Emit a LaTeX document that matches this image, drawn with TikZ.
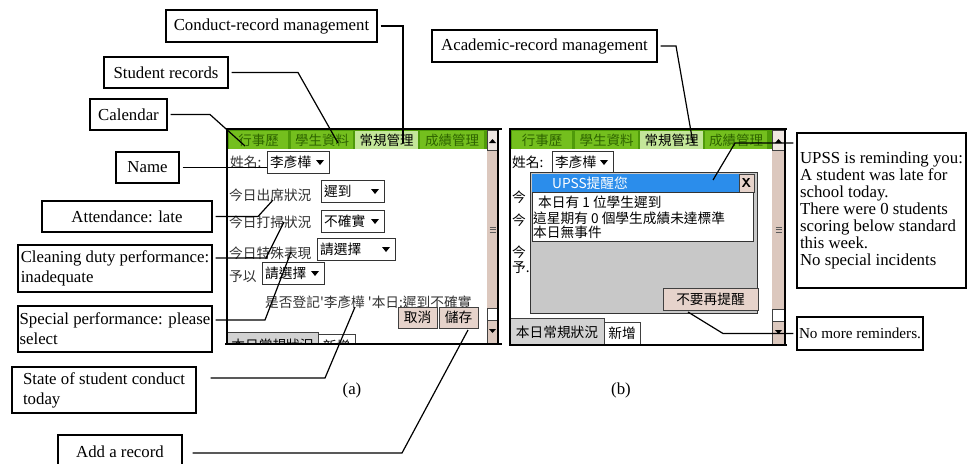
\documentclass[tikz,border=0pt]{standalone}
\usepackage{fontspec}
\setmainfont{Liberation Serif}
\newfontfamily\cjk[Ligatures=TeXOff]{Noto Sans CJK TC}
\definecolor{tabbar}{HTML}{4F9A0A}
\definecolor{tabcell}{HTML}{74BF1E}
\definecolor{tabon}{HTML}{C4E69A}
\definecolor{tabtext}{HTML}{2E6400}
\definecolor{sbtrack}{HTML}{DCC8BE}
\definecolor{sbbtn}{HTML}{EFE7E2}
\definecolor{btnfill}{HTML}{E6D3CB}
\definecolor{popgray}{HTML}{C8C8C8}
\definecolor{titleblue}{HTML}{2B8DEB}
\definecolor{scrtext}{HTML}{333333}
\definecolor{tabgray}{HTML}{D2D2D2}
\tikzset{
  lbl/.style={draw, line width=1.2pt, inner sep=0pt, font=\fontsize{16.8}{20}\selectfont, align=left},
  conn/.style={line width=1.2pt, shorten <=3pt},
  scr/.style={inner sep=0pt, font=\cjk\fontsize{13.7}{14}\selectfont, text=scrtext},
  tabtxt/.style={inner sep=0pt, font=\cjk\fontsize{13.5}{14}\selectfont, text=tabtext},
  btn/.style={draw=black!75, line width=0.8pt, fill=btnfill, inner sep=0pt, font=\cjk\fontsize{13.7}{14}\selectfont},
  framebox/.style={line width=1.2pt, draw=black},
  thinline/.style={line width=0.8pt, draw=black!75},
  ddline/.style={line width=0.9pt, draw=black!80, fill=white},
}
\newcommand\ddbox[6]{%
  \draw[ddline] (#2,#3) rectangle (#4,#5);
  \coordinate (#1) at (#2,{(#3+#5)/2});
  \node[scr, text=black, anchor=west] (#1t) at ({#2+3},{(#3+#5)/2}) {#6};
  \fill ({#4-13},{(#3+#5)/2-2}) -- ({#4-5},{(#3+#5)/2-2}) -- ({#4-9},{(#3+#5)/2+3}) -- cycle;
}
\newcommand\scrollbarat[4]{% x1 x2 ytop ybottom
  \fill[sbtrack] (#1,#3) rectangle (#2,#4);
  \draw[thinline, fill=sbbtn] (#1,#3) rectangle (#2,{#3+20});
  \fill ({(#1+#2)/2-3.5},{#3+13}) -- ({(#1+#2)/2+3.5},{#3+13}) -- ({(#1+#2)/2},{#3+9}) -- cycle;
  \draw[black!65, line width=0.7pt] ({(#1+#2)/2-3},{#3+97}) -- ({(#1+#2)/2+3},{#3+97})
     ({(#1+#2)/2-3},{#3+99.5}) -- ({(#1+#2)/2+3},{#3+99.5})
     ({(#1+#2)/2-3},{#3+102}) -- ({(#1+#2)/2+3},{#3+102});
  \draw[thinline, fill=white] (#1,{#4-36}) rectangle (#2,{#4-24});
  \draw[thinline, fill=sbtrack] (#1,{#4-24}) rectangle (#2,#4);
  \fill ({(#1+#2)/2-3.5},{#4-15}) -- ({(#1+#2)/2+3.5},{#4-15}) -- ({(#1+#2)/2},{#4-11}) -- cycle;
}
\begin{document}
\begin{tikzpicture}[x=1pt,y=-1pt]
\useasboundingbox[fill=white] (0,0) rectangle (968,463);

%% ---------------- screen (a) ----------------
\fill[white] (227,129) rectangle (498,344);
\fill[tabbar] (227,130) rectangle (487,149);
\fill[tabcell] (229,131) rectangle (288,149);
\fill[tabcell] (291,131) rectangle (353,149);
\fill[tabon]   (355,131) rectangle (418,149);
\fill[tabcell] (420,131) rectangle (484,149);
\node[tabtxt] (a-t1) at (258.5,140) {行事歷};
\node[tabtxt] (a-t2) at (322,140) {學生資料};
\node[tabtxt, text=black] (a-t3) at (386.5,140) {常規管理};
\node[tabtxt] (a-t4) at (452,140) {成績管理};
\scrollbarat{487}{498}{130}{344}

\node[scr, anchor=west] (a-name) at (230,162) {姓名:};
\ddbox{ddname}{267}{151}{329}{173}{李彥樺}
\node[scr, anchor=west] (a-att) at (229,195) {今日出席狀況};
\ddbox{ddatt}{321}{180}{384}{202}{遲到}
\node[scr, anchor=west] (a-cln) at (229,222) {今日打掃狀況};
\ddbox{ddcln}{321}{210}{384}{232}{不確實}
\node[scr, anchor=west] (a-spc) at (229,253) {今日特殊表現};
\ddbox{ddspc}{317}{238}{395}{260}{請選擇}
\node[scr, anchor=west] (a-give) at (229,277) {予以};
\ddbox{ddgive}{262}{262}{324}{284}{請選擇}
\node[scr, anchor=west] (a-conf) at (265,302) {是否登記'李彥樺 '本日:遲到不確實};
\node[btn, minimum width=39pt, minimum height=21pt] (a-cancel) at (417.5,317.5) {取消};
\node[btn, minimum width=39pt, minimum height=21pt] (a-save) at (458.5,317.5) {儲存};
\begin{scope}
  \clip (227,129) rectangle (487,344);
  \draw[thinline, fill=tabgray] (227,332) rectangle (318,356);
  \node[scr, text=black] (a-b1) at (272.5,345) {本日常規狀況};
  \draw[thinline, fill=white] (318,334) rectangle (355,356);
  \node[scr, text=black] (a-b2) at (336.5,346) {新增};
\end{scope}
\draw[framebox] (227,129) rectangle (498,344);
\draw[framebox] (498,129) -- (502,129) (498,344) -- (502,344) (225,344) -- (227,344);

%% ---------------- screen (b) ----------------
\fill[white] (510,129) rectangle (785,345);
\fill[tabbar] (510,130) rectangle (772,149);
\fill[tabcell] (512,131) rectangle (572,149);
\fill[tabcell] (575,131) rectangle (638,149);
\fill[tabon]   (640,131) rectangle (703,149);
\fill[tabcell] (705,131) rectangle (767,149);
\node[tabtxt] (b-t1) at (542,140) {行事歷};
\node[tabtxt] (b-t2) at (606.5,140) {學生資料};
\node[tabtxt, text=black] (b-t3) at (671.5,140) {常規管理};
\node[tabtxt] (b-t4) at (736,140) {成績管理};
\scrollbarat{772}{785}{130}{345}

\node[scr, anchor=west, text=black] (b-name) at (512,162) {姓名:};
\ddbox{ddnameb}{552}{151}{613}{173}{李彥樺}
\node[scr, anchor=west, text=black] (b-l1) at (512,197) {今};
\node[scr, anchor=west, text=black] (b-l2) at (512,220) {今};
\node[scr, anchor=west, text=black] (b-l3) at (512,252) {今};
\node[scr, anchor=west, text=black] (b-l4) at (512,268) {予.};

\draw[line width=1pt, draw=black!80, fill=popgray] (530,172) rectangle (757,313);
\fill[titleblue] (532,174) rectangle (755,192);
\node[scr, anchor=west, text=white] (b-title) at (552,183) {UPSS提醒您};
\node[btn, minimum width=15pt, minimum height=18pt, font=\sffamily\bfseries\fontsize{13}{14}\selectfont] (b-x) at (746.5,183) {X};
\draw[line width=1pt, draw=black!80, fill=white] (532,192) rectangle (753,241);
\node[scr, anchor=west, text=black] (b-m1) at (538,202) {本日有 1 位學生遲到};
\node[scr, anchor=west, text=black] (b-m2) at (533,218) {這星期有 0 個學生成績未達標準};
\node[scr, anchor=west, text=black] (b-m3) at (533,232) {本日無事件};
\node[btn, minimum width=95pt, minimum height=22pt] (b-nomore) at (710.5,299) {不要再提醒};

\draw[thinline, fill=tabgray] (510,318) rectangle (604,345);
\node[scr, text=black] (b-b1) at (557,332) {本日常規狀況};
\draw[thinline, fill=white] (604,322) rectangle (640,345);
\node[scr, text=black] (b-b2) at (622,333) {新增};
\draw[framebox] (510,129) rectangle (785,345);
\draw[framebox] (785,129) -- (787,129) (785,345) -- (787,345);

%% ---------------- labels ----------------
\node[lbl, minimum width=211pt, minimum height=32pt] (conduct) at (271.5,26) {Conduct-record management};
\node[lbl, minimum width=124pt, minimum height=31pt] (student) at (166,72.5) {Student records};
\node[lbl, minimum width=77pt, minimum height=31pt] (calendar) at (128.5,114.5) {Calendar};
\node[lbl, minimum width=63pt, minimum height=31pt] (name) at (147.5,167.5) {Name};
\node[lbl, minimum width=170pt, minimum height=31pt] (attendance) at (127,216.5) {Attendance: late};
\node[lbl, minimum width=194pt, minimum height=47pt] (cleaning) at (115,268.5) {Cleaning duty performance:\\inadequate};
\node[lbl, minimum width=194pt, minimum height=46pt] (special) at (115,329) {Special performance: please\\select};
\node[lbl, minimum width=184pt, minimum height=46pt] (state) at (104,390) {State of student conduct\\today};
\node[lbl, minimum width=124pt, minimum height=34pt] (add) at (120,452) {Add a record};
\node[lbl, minimum width=225pt, minimum height=32pt] (academic) at (544.5,46) {Academic-record management};
\node[lbl, minimum width=169pt, minimum height=155pt, font=\fontsize{16.8}{17}\selectfont] (upss) at (881.5,210.5)
  {UPSS is reminding you:\\A student was late for\\school today.\\There were 0 students\\scoring below standard\\this week.\\No special incidents};
\node[lbl, minimum width=126pt, minimum height=33pt, font=\fontsize{15.2}{17}\selectfont] (nomore) at (860,333.5) {No more reminders.};
\node[font=\fontsize{16.8}{20}\selectfont, inner sep=0pt] (capa) at (352,390) {(a)};
\node[font=\fontsize{16.8}{20}\selectfont, inner sep=0pt] (capb) at (621,390) {(b)};

%% ---------------- connectors ----------------
\coordinate (kCon) at (403,143);
\draw[conn] (conduct.east) -| (kCon);
\coordinate (kStu) at (298,72.5);
\coordinate (eStu) at (338,143);
\draw[conn] (student.east) -- (kStu) -- (eStu);
\coordinate (kCal) at (210,114.5);
\coordinate (eCal) at (245,146);
\draw[conn] (calendar.east) -- (kCal) -- (eCal);
\draw[conn] (name.east) -- (name.east -| ddname);
\coordinate (kAtt) at (258,216.5);
\coordinate (eAtt) at (273,200);
\draw[conn] (attendance.east) -- (kAtt) -- (eAtt);
\coordinate (kCln) at (266,258);
\coordinate (eCln) at (284,222);
\draw[conn] (cleaning.east |- kCln) -- (kCln) -- (eCln);
\coordinate (kSpc) at (265,320);
\coordinate (eSpc) at (291,252);
\draw[conn] (special.east |- kSpc) -- (kSpc) -- (eSpc);
\coordinate (kSta) at (325,378);
\coordinate (eSta) at (355,307);
\draw[conn, shorten <=14pt] (state.east |- kSta) -- (kSta) -- (eSta);
\coordinate (kAdd) at (402,453);
\coordinate (eAdd) at (468,330);
\draw[conn, shorten <=10pt] (add.east |- kAdd) -- (kAdd) -- (eAdd);
\coordinate (kAca) at (676,46);
\coordinate (eAca) at (693,143);
\draw[conn] (academic.east) -- (kAca) -- (eAca);
\coordinate (kUp) at (735,143);
\coordinate (eUp) at (713,180);
\draw[conn] (upss.west |- kUp) -- (kUp) -- (eUp);
\coordinate (kNo) at (723,333.5);
\coordinate (eNo) at (688,312);
\draw[conn] (nomore.west) -- (kNo) -- (eNo);
\end{tikzpicture}
\end{document}
